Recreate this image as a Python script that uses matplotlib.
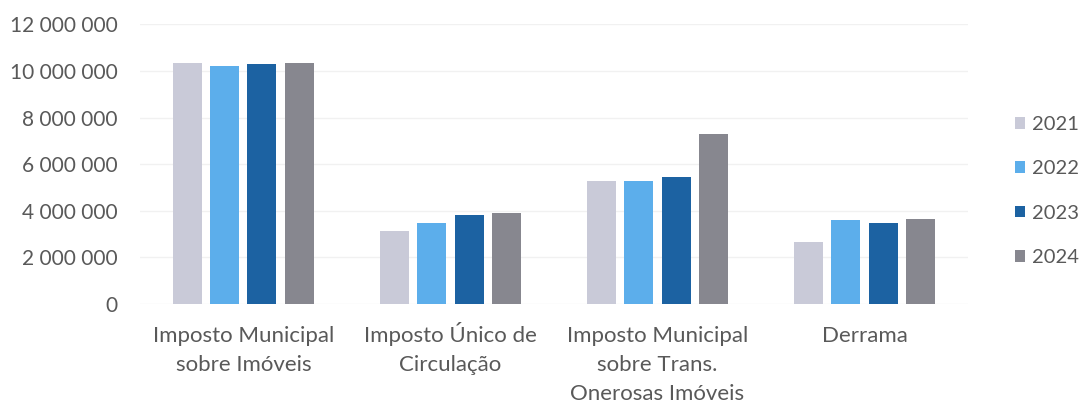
import matplotlib
matplotlib.use("Agg")
import matplotlib.pyplot as plt
import matplotlib.transforms as mtransforms
import numpy as np
from matplotlib.ticker import FuncFormatter

categories = ["Imposto Municipal\nsobre Imóveis",
              "Imposto Único de\nCirculação",
              "Imposto Municipal\nsobre Trans.\nOnerosas Imóveis",
              "Derrama"]
years = ["2021", "2022", "2023", "2024"]
v2021 = [10360000, 3140000, 5270000, 2670000]
v2022 = [10200000, 3470000, 5280000, 3600000]
v2023 = [10300000, 3810000, 5430000, 3460000]
v2024 = [10360000, 3900000, 7280000, 3640000]
series = [v2021, v2022, v2023, v2024]
colors = ["#c9cad8", "#5caeeb", "#1c62a2", "#87878f"]
text_color = "#595959"

plt.rcParams['font.family'] = ['Lato', 'DejaVu Sans']
W, H = 1084, 403
fig = plt.figure(figsize=(W / 100, H / 100), dpi=100)
ax = fig.add_axes([0.129, 0.2457, 0.764, 0.694])

x = np.arange(len(categories))
w = 0.14
step = 0.18
for i, (vals, c, y) in enumerate(zip(series, colors, years)):
    ax.bar(x + (i - 1.5) * step, vals, width=w, color=c, label=y, zorder=3)

ax.set_xlim(-0.5, len(categories) - 0.5)
ax.set_ylim(0, 12000000)
ax.set_yticks(np.arange(0, 12000001, 2000000))
ax.yaxis.set_major_formatter(FuncFormatter(lambda v, p: f"{int(v):,}".replace(",", " ")))
ax.grid(axis='y', color='#f1f1f1', linewidth=1, zorder=0)
for s in ax.spines.values():
    s.set_visible(False)
ax.tick_params(axis='both', length=0, colors=text_color, labelsize=15)
ax.tick_params(axis='y', pad=16)
ax.set_xticks(x)
ax.set_xticklabels([])

# category labels, line by line (baselines in figure pixels)
trans = mtransforms.blended_transform_factory(ax.transData, fig.transFigure)
baselines_px = [342, 371, 400]
for xi, cat in zip(x, categories):
    for j, line in enumerate(cat.split("\n")):
        ax.text(xi, 1 - baselines_px[j] / H, line, transform=trans, ha='center',
                va='baseline', fontsize=16, color=text_color, clip_on=False)

leg = fig.legend(loc='center left', bbox_to_anchor=(1015 / W, 1 - 191 / H), frameon=False,
                 fontsize=14.5, labelspacing=1.36, handlelength=0.5, handleheight=0.5,
                 handletextpad=0.35, borderpad=0, borderaxespad=0, labelcolor=text_color)

fig.savefig("out.png", dpi=100)
